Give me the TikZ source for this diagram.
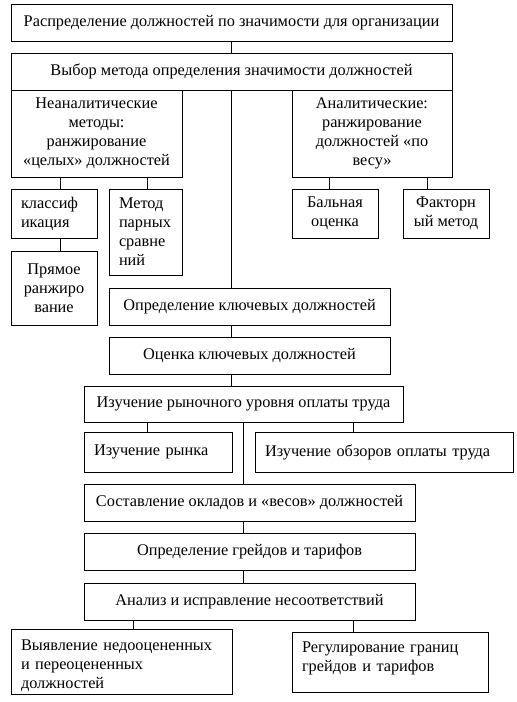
\documentclass[tikz,border=0pt]{standalone}
\usepackage{fontspec}
\setmainfont{Liberation Serif}
\tikzset{
  box/.style={draw, line width=0.9pt, inner sep=0pt, align=center, font=\fontsize{16.3}{19}\selectfont},
  lbox/.style={box, align=left, inner xsep=10pt},
  link/.style={line width=0.9pt}
}
\newcommand{\bx}[7]{%
  \pgfmathsetmacro{\cxx}{(#2+#4)/2}\pgfmathsetmacro{\cyy}{(#3+#5)/2}%
  \pgfmathsetmacro{\ww}{#4-#2}\pgfmathsetmacro{\hh}{#5-#3}%
  \node[#6, minimum width=\ww pt, minimum height=\hh pt] (#1) at (\cxx,\cyy) {#7};}
\newcommand{\lbx}[7]{%
  \pgfmathsetmacro{\cxx}{(#2+#4)/2}\pgfmathsetmacro{\cyy}{(#3+#5)/2}%
  \pgfmathsetmacro{\ww}{#4-#2}\pgfmathsetmacro{\hh}{#5-#3}\pgfmathsetmacro{\tw}{#4-#2-20}%
  \node[lbox, #6, text width=\tw pt, minimum height=\hh pt] (#1) at (\cxx,\cyy) {#7};}
\begin{document}
\begin{tikzpicture}[x=1pt,y=-1pt]
\useasboundingbox (0,0) rectangle (517,702);
\bx{b1}{11}{4}{452}{41}{box}{Распределение должностей по значимости для организации}
\bx{b2}{11}{53}{452}{90}{box}{Выбор метода определения значимости должностей}
\bx{na}{11}{90}{182}{177}{box}{Неаналитические\\методы:\\ранжирование\\«целых» должностей}
\bx{an}{292}{90}{452}{177}{box}{Аналитические:\\ранжирование\\должностей «по\\весу»}
\lbx{kl}{11}{189}{97}{238}{}{классиф\\икация}
\lbx{mp}{109}{189}{182}{275}{}{Метод\\парных\\сравне\\ний}
\bx{pr}{11}{251}{97}{325}{box}{Прямое\\ранжиро\\вание}
\bx{bo}{292}{189}{378}{238}{box}{Бальная\\оценка}
\bx{fm}{403}{189}{489}{238}{box}{Факторн\\ый метод}
\bx{kd}{109}{288}{390}{325}{box}{Определение ключевых должностей}
\bx{ok}{109}{337}{390}{374}{box}{Оценка ключевых должностей}
\bx{iz}{84}{386}{403}{422}{box}{Изучение рыночного уровня оплаты труда}
\lbx{ir}{84}{432}{232}{472}{}{Изучение рынка}
\lbx{io}{255}{432}{513}{472}{}{Изучение обзоров оплаты труда}
\bx{so}{84}{484}{415}{521}{box}{Составление окладов и «весов» должностей}
\bx{og}{84}{533}{415}{570}{box}{Определение грейдов и тарифов}
\bx{az}{84}{583}{415}{620}{box}{Анализ и исправление несоответствий}
\lbx{vy}{11}{629}{232}{694}{text depth=32pt}{Выявление недооцененных\\и переоцененных\\должностей}
\lbx{rg}{292}{632}{488}{692}{text depth=29.5pt}{Регулирование границ\\грейдов и тарифов}
% connectors
\draw[link] (b1.south -| 231,0) -- (b2.north -| 231,0);
\draw[link] (b2.south -| 231,0) -- (kd.north -| 231,0);
\draw[link] (na.south -| 60,0) -- (kl.north -| 60,0);
\draw[link] (na.south -| 147,0) -- (mp.north -| 147,0);
\draw[link] (kl.south -| 60,0) -- (pr.north -| 60,0);
\draw[link] (an.south -| 329,0) -- (bo.north -| 329,0);
\draw[link] (an.south -| 427,0) -- (fm.north -| 427,0);
\draw[link] (kd.south -| 231,0) -- (ok.north -| 231,0);
\draw[link] (ok.south -| 231,0) -- (iz.north -| 231,0);
\draw[link] (iz.south -| 147,0) -- (ir.north -| 147,0);
\draw[link] (iz.south -| 353,0) -- (io.north -| 353,0);
\draw[link] (iz.south -| 243,0) -- (so.north -| 243,0);
\draw[link] (so.south -| 243,0) -- (og.north -| 243,0);
\draw[link] (og.south -| 243,0) -- (az.north -| 243,0);
\draw[link] (az.south -| 133,0) -- (vy.north -| 133,0);
\draw[link] (az.south -| 353,0) -- (rg.north -| 353,0);
\end{tikzpicture}
\end{document}
